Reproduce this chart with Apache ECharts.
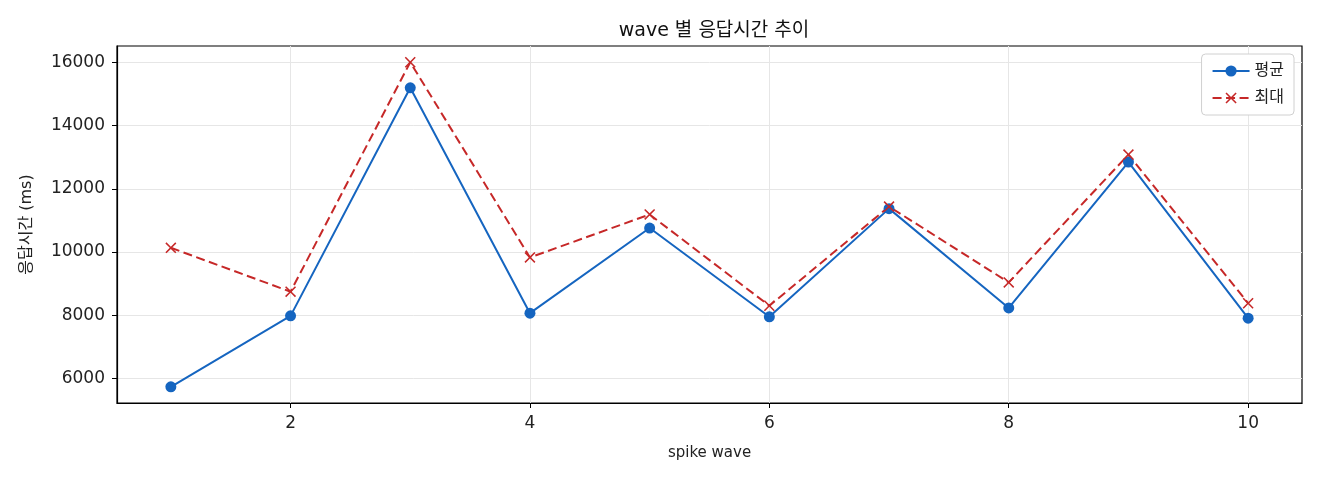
<!DOCTYPE html>
<html lang="ko">
<head>
    <meta charset="UTF-8">
    <title>wave 별 응답시간 추이</title>
    <script src="https://cdn.jsdelivr.net/npm/echarts@6/dist/echarts.min.js"></script>
    <style>
        html, body { margin: 0; padding: 0; background: #fff; }
        #chart { width: 1320px; height: 480px; }
    </style>
</head>
<body>
    <div id="chart"></div>

    <script>
        // spike wave 번호
        const waves = [1, 2, 3, 4, 5, 6, 7, 8, 9, 10];
        // 평균 응답시간 (ms)
        const avgMs = [5735, 7980, 15200, 8065, 10760, 7950, 11375, 8230, 12850, 7905];
        // 최대 응답시간 (ms)
        const maxMs = [10135, 8745, 16010, 9830, 11190, 8300, 11440, 9040, 13085, 8380];

        const xTicks = [2, 4, 6, 8, 10];
        const yTicks = [6000, 8000, 10000, 12000, 14000, 16000];

        const FONT = "'DejaVu Sans', 'Noto Sans CJK KR', sans-serif";
        const BLUE = '#1565c0';
        const RED = '#c62828';
        const X_MARK = 'path://M0,1 L1,0 L5,4 L9,0 L10,1 L6,5 L10,9 L9,10 L5,6 L1,10 L0,9 L4,5 Z';

        // matplotlib 기본 여백 5%
        function pad(values) {
            let lo = Math.min(...values), hi = Math.max(...values);
            let m = (hi - lo) * 0.05;
            return [lo - m, hi + m];
        }
        const [xMin, xMax] = pad(waves);
        const [yMin, yMax] = pad(avgMs.concat(maxMs));

        let chart = echarts.init(document.getElementById('chart'));

        let option = {
            animation: false,
            backgroundColor: '#fff',
            title: {
                text: 'wave 별 응답시간 추이',
                left: 709,
                textAlign: 'center',
                top: 17,
                textStyle: { fontFamily: FONT, fontSize: 19, fontWeight: 'normal', color: '#111' }
            },
            legend: {
                orient: 'vertical',
                right: 26,
                top: 54,
                itemWidth: 37,
                itemHeight: 14,
                itemGap: 11,
                padding: [9, 10],
                backgroundColor: '#fff',
                borderColor: '#d0d0d0',
                borderWidth: 1,
                borderRadius: 4,
                textStyle: { fontFamily: FONT, fontSize: 16, color: '#222' },
                data: ['평균', '최대']
            },
            grid: {
                left: 117, right: 18, top: 46, bottom: 77,
                show: true,
                borderColor: '#000',
                borderWidth: 1.2
            },
            xAxis: {
                type: 'value',
                min: xMin,
                max: xMax,
                name: 'spike wave',
                nameLocation: 'middle',
                nameGap: 43,
                nameTextStyle: { fontFamily: FONT, fontSize: 15, color: '#222' },
                axisLine: { show: true, onZero: false, lineStyle: { color: '#000', width: 1.2 } },
                axisTick: { show: true, length: 5, customValues: xTicks, lineStyle: { color: '#000' } },
                axisLabel: { customValues: xTicks, margin: 12, fontFamily: FONT, fontSize: 17, color: '#222' },
                splitLine: { show: true, lineStyle: { color: '#e6e6e6', width: 1 } }
            },
            yAxis: {
                type: 'value',
                min: yMin,
                max: yMax,
                name: '응답시간 (ms)',
                nameLocation: 'middle',
                nameGap: 82,
                nameTextStyle: { fontFamily: FONT, fontSize: 16, color: '#222' },
                axisLine: { show: true, lineStyle: { color: '#000', width: 1.2 } },
                axisTick: { show: true, length: 5, customValues: yTicks, lineStyle: { color: '#000' } },
                axisLabel: {
                    customValues: yTicks,
                    formatter: v => String(Math.round(v)),
                    margin: 12, fontFamily: FONT, fontSize: 17, color: '#222'
                },
                splitLine: { show: true, lineStyle: { color: '#e6e6e6', width: 1 } }
            },
            series: [
                {
                    name: '평균',
                    type: 'line',
                    data: waves.map((w, i) => [w, avgMs[i]]),
                    symbol: 'circle',
                    symbolSize: 11,
                    showAllSymbol: true,
                    lineStyle: { color: BLUE, width: 2 },
                    itemStyle: { color: BLUE }
                },
                {
                    name: '최대',
                    type: 'line',
                    data: waves.map((w, i) => [w, maxMs[i]]),
                    symbol: X_MARK,
                    symbolSize: 11,
                    showAllSymbol: true,
                    lineStyle: { color: RED, width: 2, type: [9, 4.5] },
                    itemStyle: { color: RED }
                }
            ]
        };

        chart.setOption(option);
    </script>
</body>
</html>
